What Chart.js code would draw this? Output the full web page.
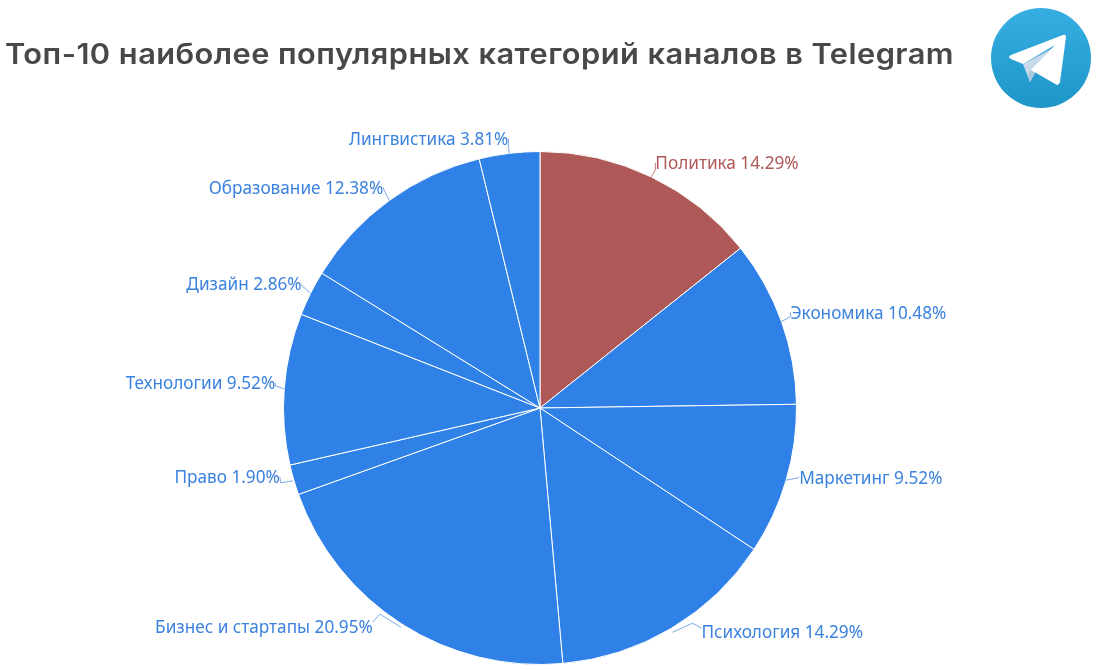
<!DOCTYPE html>
<html lang="ru">
<head>
<meta charset="utf-8">
<title>Топ-10 категорий каналов в Telegram</title>
<script src="https://cdn.jsdelivr.net/npm/chart.js@4"></script>
<style>
    html, body { margin: 0; padding: 0; background: #fff; }
    #wrap { position: relative; width: 1100px; height: 670px; overflow: hidden; }
    #title {
        position: absolute; left: 5px; top: 35px; white-space: nowrap;
        font: 600 28px Inter, sans-serif; color: #484848; line-height: 38px; letter-spacing: 0.4px;
        transform: scaleX(1.1); transform-origin: left center;
    }
    #logo { position: absolute; left: 985px; top: 2px; }
    canvas { position: absolute; left: 0; top: 0; }
</style>
</head>
<body>
<div id="wrap">
    <canvas id="myChart" width="1100" height="670"></canvas>
    <div id="title">Топ-10 наиболее популярных категорий каналов в Telegram</div>
    <svg id="logo" width="112" height="112" viewBox="985 2 112 112">
        <defs>
            <linearGradient id="tg" x1="0" y1="0" x2="0" y2="1">
                <stop offset="0" stop-color="#37AEE2"/>
                <stop offset="1" stop-color="#1E96C8"/>
            </linearGradient>
        </defs>
        <circle cx="1041" cy="58" r="50" fill="url(#tg)"/>
        <path d="M1023 64 L1030 82 L1035 73 L1055 47 Z" fill="#C8DAEA"/>
        <path d="M1030 82 L1035 73 L1031 70 L1028 75 Z" fill="#A9C9DD"/>
        <path d="M1031 70 L1057 85 Q1059 85 1060 82 L1066 37 Q1066 34 1063 35 L1011 55 Q1007 57 1011 59 L1023 64 L1055 45 Z" fill="#FFFFFF"/>
    </svg>
</div>
<script>
const categories = ['Политика', 'Экономика', 'Маркетинг', 'Психология', 'Бизнес и стартапы',
    'Право', 'Технологии', 'Дизайн', 'Образование', 'Лингвистика'];
const shares = [14.29, 10.48, 9.52, 14.29, 20.95, 1.90, 9.52, 2.86, 12.38, 3.81];

const BLUE = '#2F80E7';
const RED = '#AE5857';
const colors = categories.map((c, i) => i === 0 ? RED : BLUE);
const textColors = categories.map((c, i) => i === 0 ? RED : '#3A82DE');

// leader line start, elbow and end, relative to the middle of each slice's outer edge
const labelOffsets = [
    [[0, 0], [4, -7], [4, -14]],
    [[0, 0], [9, -5], [9, -9]],
    [[0, 0], [12, -2], [13, -3]],
    [[1, 4], [21, -5], [30, 0]],
    [[-1, 3], [-22, -10], [-29, -2]],
    [[-1, 1], [-13, 3], [-14, -3]],
    [[0, 0], [-9, -3], [-9, -6]],
    [[0, 0], [-8, -7], [-9, -9]],
    [[0, 0], [-5, -10], [-6, -13]],
    [[0, 0], [-1, -6], [-1, -15]]
];
// how far each text sits below the end of its leader line
const textDrop = [1, 2, 2, 5, 6, 1, 1, 1, 2, 2];

const sliceLabels = {
    id: 'sliceLabels',
    afterDatasetsDraw(chart) {
        const ctx = chart.ctx;
        const arcs = chart.getDatasetMeta(0).data;
        ctx.save();
        ctx.font = '17.2px "Noto Sans", sans-serif';
        ctx.textBaseline = 'middle';
        arcs.forEach((arc, i) => {
            const { x, y, startAngle, endAngle, outerRadius } = arc.getProps(['x', 'y', 'startAngle', 'endAngle', 'outerRadius']);
            const mid = (startAngle + endAngle) / 2;
            const mx = x + Math.cos(mid) * outerRadius;
            const my = y + Math.sin(mid) * outerRadius;
            const [a, b, c] = labelOffsets[i];
            ctx.strokeStyle = i === 0 ? RED : '#5B93DC';
            ctx.lineWidth = 0.8;
            ctx.beginPath();
            ctx.moveTo(mx + a[0], my + a[1]);
            ctx.lineTo(mx + b[0], my + b[1]);
            ctx.lineTo(mx + c[0], my + c[1]);
            ctx.stroke();
            ctx.fillStyle = textColors[i];
            ctx.textAlign = c[0] > 0 ? 'left' : 'right';
            ctx.fillText(categories[i] + ' ' + shares[i].toFixed(2) + '%', mx + c[0], my + c[1] + textDrop[i]);
        });
        ctx.restore();
    }
};

new Chart(document.getElementById('myChart'), {
    type: 'pie',
    data: {
        labels: categories,
        datasets: [{
            data: shares,
            backgroundColor: colors,
            borderColor: '#ffffff',
            borderWidth: 1
        }]
    },
    options: {
        responsive: false,
        animation: false,
        layout: { padding: { left: 283, right: 303, top: 151, bottom: 5 } },
        plugins: {
            legend: { display: false },
            tooltip: { enabled: false }
        }
    },
    plugins: [sliceLabels]
});
</script>
</body>
</html>
